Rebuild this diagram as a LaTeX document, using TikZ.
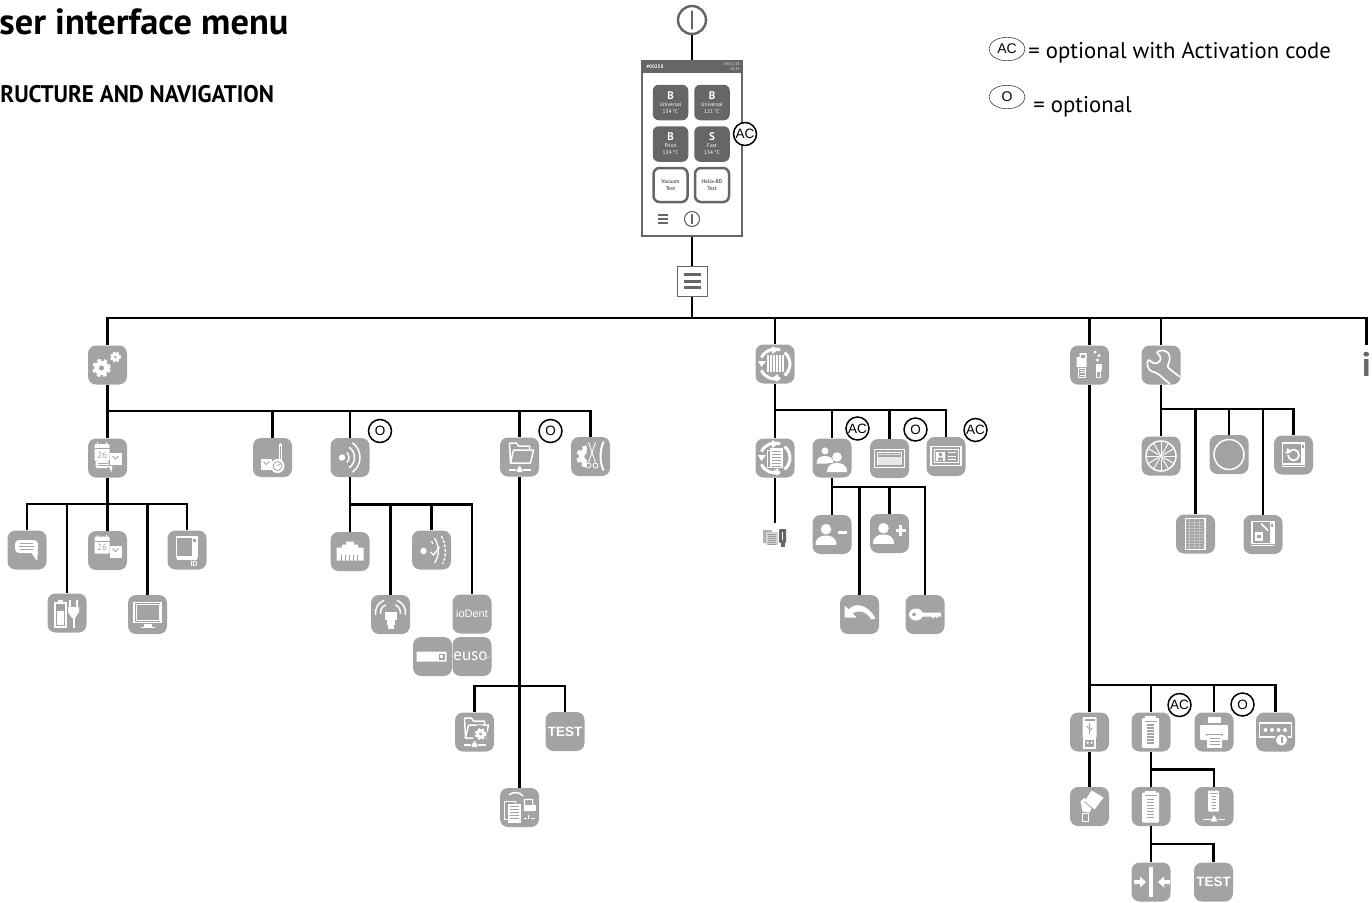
\documentclass[tikz,border=0pt]{standalone}
\usepackage{fontspec}
\setmainfont{PT Sans}
\newfontfamily\headfont[FakeStretch=0.96]{PT Sans}
\newfontfamily\flagfont{Liberation Sans}
\newfontfamily\symbolfont{DejaVu Sans}
\usetikzlibrary{shapes.geometric}
\definecolor{iconGrey}{HTML}{A3A3A3}
\definecolor{darkGrey}{HTML}{666666}
\newcommand{\cogwheel}[3]{
    \draw[white,line width=#3*0.4pt,dash pattern=on #3*0.37pt off #3*0.3pt] (#1,#2) circle[radius=#3*0.82pt];
    \fill[white,even odd rule] (#1,#2) circle[radius=#3*0.8pt] (#1,#2) circle[radius=#3*0.3pt];
}
\newcommand{\wavearc}[5]{\draw[glyph,shift={(#1,#2)}] (#3:#5pt) arc[start angle=#3,end angle=#4,radius=#5pt];}
\newcommand{\personglyph}[3]{
    \begin{scope}[shift={(#1,#2)},scale=#3]
        \fill[white] (0,-6) circle[radius=#3*4.8pt];
        \fill[white] (-10,9) .. controls (-10,2) and (-5,0) .. (0,0) .. controls (5,0) and (10,2) .. (10,9) -- cycle;
    \end{scope}
}
\newcommand{\folderglyph}{
    \draw[glyph,line join=round] (-9,6) -- (-10,-14) -- (-3,-14) -- (-1,-11) -- (10,-11) -- (10,-7);
    \draw[glyph,line join=round] (-9,6) -- (-6,-7) -- (14,-7) -- (11,6) -- cycle;
}
\newcommand{\cabinetglyph}{
    \draw[glyph] (-10.5,-13) rectangle (10,7);
    \fill[white] (5,-13) rectangle (10,7);
    \draw[glyph] (-10.5,9) -- (10,9);
    \fill[iconGrey] (6.2,-11) rectangle (8.8,-8);
}
\newcommand{\bottleglyph}{
    \fill[white,rounded corners=1pt] (-9,-14) rectangle (8,16);
    \fill[white] (-6,-16) rectangle (5,-14);
    \fill[iconGrey] (-6.5,-11.5) rectangle (5.5,-10.5);
    \foreach \h in {-7,-4,...,11} \draw[iconGrey,line width=1.2pt] (-4,\h) -- (3,\h);
}
\tikzset{
    glyph/.style={draw=white,line width=1.5pt,fill=none},
    pics/netbar/.style={code={
        \draw[glyph] (-11,13) -- (-3.5,13) (3.5,13) -- (11,13);
        \fill[white] (-3,15) -- (-2,11) -- (-1,11) -- (-1,9) -- (1,9) -- (1,11) -- (2,11) -- (3,15) -- cycle;
    }},
    pics/powerbar/.style={code={\draw[darkGrey,line cap=round] (0,-#1) -- (0,#1);}},
    pics/menubars/.style={code={
        \foreach \h in {-8.5,-1.5,4.5} \fill[darkGrey] (-8.5,\h) rectangle (8.5,\h+3.5);
    }},
    pics/gears/.style={code={\cogwheel{-6}{3}{9}\cogwheel{8}{-8}{5.5}}},
    pics/calendarglyph/.style={code={
        \fill[white,rounded corners=1pt] (-13,-14) rectangle (2,3);
        \draw[iconGrey,line width=.7pt] (-13,-9.5) -- (2,-9.5);
        \node[text=iconGrey,font=\fontsize{9}{9}\selectfont,inner sep=0] (day) at (-5.5,-3) {26};
        \draw[white,line width=1.4pt] (-10,-16) -- (-10,-13) (-1,-16) -- (-1,-13);
        \fill[white] (2,-5) rectangle (14,7);
        \draw[iconGrey,line width=.8pt] (5,-2) -- (8,1) -- (11,-2);
    }},
    pics/datetime/.style={code={
        \pic {calendarglyph};
        \fill[white,rounded corners=1.5pt] (-12,3) rectangle (1,10);
        \fill[white] (1,8) -- (5,8) -- (4,14) -- cycle;
        \draw[iconGrey,line width=.6pt] (-10,5) -- (0,5) (-10,7.5) -- (0,7.5);
    }},
    pics/thermoclock/.style={code={
        \fill[white] (-12,1) rectangle (-1,12);
        \draw[iconGrey,line width=.8pt] (-9,4) -- (-6.5,7) -- (-3,4);
        \draw[white,line width=3pt,line cap=round] (7.5,-13) -- (7.5,3);
        \draw[iconGrey,line width=.8pt] (7.5,-12) -- (7.5,1);
        \fill[white] (5,8.5) circle[radius=7pt];
        \draw[iconGrey,line width=.8pt] (5,8.5) circle[radius=4.5pt] (5,8.5) -- (8,6);
    }},
    pics/wifi/.style={code={
        \fill[white] (-8,0) circle[radius=3.2pt];
        \wavearc{-8}{0}{-45}{45}{7}
        \wavearc{-8}{0}{-55}{55}{12.5}
        \wavearc{-8}{0}{-55}{55}{18}
    }},
    pics/netfolder/.style={code={\folderglyph\pic {netbar};}},
    pics/gearfolder/.style={code={\folderglyph\pic {netbar};\fill[iconGrey] (5,1) circle[radius=8pt];\cogwheel{6}{2}{6}}},
    pics/tools/.style={code={
        \begin{scope}
            \clip (-16,-16) rectangle (-4,16);
            \cogwheel{-3}{0}{11}
        \end{scope}
        \draw[white,line width=.9pt] (-2,-14) -- (5,6) (5,-14) -- (-2,6);
        \draw[white,line width=.8pt] (-2,9) circle[radius=2.5pt] (5,9) circle[radius=2.5pt];
        \draw[glyph,line width=2pt] (13,-15) .. controls (9,-5) and (9,5) .. (13,14);
    }},
    pics/speech/.style={code={
        \fill[white,rounded corners=4pt] (-12,-10) rectangle (11,3);
        \fill[white] (4,2) -- (11,1) -- (10,11) -- cycle;
        \draw[iconGrey,line width=.6pt] (-7,-6.5) -- (6,-6.5) (-8,-3.5) -- (7,-3.5) (-7,-.5) -- (6,-.5);
    }},
    pics/battery/.style={code={
        \draw[glyph] (-12,-10) rectangle (-1,14);
        \fill[white] (-9,-13) rectangle (-4,-10);
        \fill[white] (-10,-2) rectangle (-3,12);
        \draw[glyph,line width=2pt] (3,-13) -- (3,-6) (10,-13) -- (10,-6);
        \fill[white] (1,-6) -- (12,-6) -- (12,-1) -- (8,5) -- (5,5) -- (1,-1) -- cycle;
        \draw[glyph,line width=2pt] (6.5,5) -- (6.5,15);
    }},
    pics/monitor/.style={code={
        \draw[glyph] (-13.5,-12) rectangle (13.5,8);
        \draw[white,line width=.7pt] (-11.5,-10) rectangle (11.5,6);
        \fill[white] (-4,9) rectangle (4,12);
        \fill[white] (-7,12) rectangle (7,13.5);
    }},
    pics/cabinetid/.style={code={
        \cabinetglyph
        \node[text=white,font=\bfseries\fontsize{7.5}{7.5}\selectfont,inner sep=0] (idtag) at (7,13.5) {ID};
    }},
    pics/lanport/.style={code={
        \fill[white] (-13.5,9) -- (-13.5,-4) -- (-8,-4) -- (-8,-7) -- (-4,-7) -- (-4,-10) -- (4,-10) -- (4,-7) -- (8,-7) -- (8,-4) -- (13.5,-4) -- (13.5,9) -- cycle;
        \foreach \h in {-9,-5,...,9} \draw[iconGrey,line width=.8pt] (\h,3) -- (\h,9);
    }},
    pics/sonic/.style={code={
        \fill[white] (-8,1) circle[radius=3.2pt];
        \draw[white,line width=1.3pt,dash pattern=on 3pt off 1.5pt] (0,-9) -- (2,-5);
        \draw[white,line width=1.3pt,dash pattern=on 3pt off 1.5pt] (10,-14) .. controls (15,-4) and (15,6) .. (11,14);
        \draw[white,line width=1.3pt] (3,-12) .. controls (8,-4) and (8,6) .. (3,13);
        \draw[white,line width=1.4pt] (-1,2) -- (2,5) -- (8,-3);
    }},
    pics/signal/.style={code={
        \fill[white] (-6,-3) rectangle (6,5);
        \fill[white] (-4,5) rectangle (4,10);
        \fill[white] (-3,10) rectangle (3,14);
        \wavearc{-2}{-2}{110}{190}{8}
        \wavearc{-2}{-2}{110}{190}{13}
        \wavearc{2}{-2}{-10}{70}{8}
        \wavearc{2}{-2}{-10}{70}{13}
    }},
    pics/slot/.style={code={
        \fill[white,rounded corners=.5pt] (-16,-5) rectangle (14,5);
        \fill[iconGrey] (6,-3) rectangle (12,3);
        \fill[white] (7.5,-1.5) rectangle (10.5,1.5);
    }},
    pics/restorefolder/.style={code={
        \wavearc{-4}{-5}{130}{40}{10}
        \draw[glyph,line width=.8pt] (-15,-6) rectangle (-4,12);
        \fill[white] (-12,-4) rectangle (1,15);
        \foreach \h in {-1,2,...,13} \draw[iconGrey,line width=.7pt] (-10,\h) -- (-1,\h);
        \draw[glyph,line width=1.1pt] (5,-8) -- (13,-8) -- (14,3) -- (5,3) -- cycle;
        \fill[white] (4,-3) rectangle (16,3);
        \draw[white,line width=1pt] (4,11) -- (7.5,11) (11,11) -- (15,11) (9,7) -- (9,11);
    }},
    pics/cyclearcs/.style={code={
        \draw[white,line width=3pt] (155:15pt) arc[start angle=155,end angle=70,radius=15pt];
        \draw[white,line width=3pt] (50:15pt) arc[start angle=50,end angle=-50,radius=15pt];
        \draw[white,line width=3pt] (-70:15pt) arc[start angle=-70,end angle=-155,radius=15pt];
        \fill[white] (-17,-3) -- (-9,-3) -- (-13.5,3) -- cycle;
        \fill[white] (-3,-18) -- (3,-14) -- (-3,-10) -- cycle;
        \fill[white] (3,18) -- (-3,14) -- (3,10) -- cycle;
    }},
    pics/cyclestack/.style={code={
        \pic {cyclearcs};
        \fill[white] (-8,-9) rectangle (9,8);
        \foreach \h in {-6,-3,...,6} \draw[iconGrey,line width=.8pt] (\h,-9) -- (\h,8);
    }},
    pics/cycledoc/.style={code={
        \pic {cyclearcs};
        \draw[glyph,line width=.8pt] (-8,-8) rectangle (5,9);
        \fill[white] (-5,-10) rectangle (8,10);
        \foreach \h in {-7,-4,...,8} \draw[iconGrey,line width=.7pt] (-3,\h) -- (6,\h);
    }},
    pics/usbcopy/.style={code={
        \wavearc{-2}{-1}{140}{40}{8}
        \fill[gray!60,rounded corners=.5pt] (-12,-5) rectangle (-3,8);
        \fill[gray!35] (-9,-3) rectangle (3,10);
        \foreach \h in {-1,1,...,9} \draw[gray!80,line width=.4pt] (-7,\h) -- (1,\h);
        \fill[darkGrey,rounded corners=1pt] (4,-6) rectangle (11,8);
        \fill[darkGrey] (5.5,8) rectangle (9.5,12);
        \draw[white,line width=.5pt] (7.5,-3) -- (7.5,5);
    }},
    pics/users/.style={code={
        \personglyph{-7}{-2}{.85}
        \fill[iconGrey] (5,-6) circle[radius=7pt];
        \fill[iconGrey] (-5,15) -- (-4,5) -- (14,5) -- (18,15) -- cycle;
        \personglyph{5}{5}{1}
    }},
    pics/cardglyph/.style={code={
        \draw[glyph] (-15,-9) rectangle (15,9);
        \draw[white,line width=.7pt] (-12,-6) rectangle (12,6);
        \fill[white!75!iconGrey] (-12,-2) rectangle (12,6);
        \draw[white,line width=1pt,dash pattern=on 1pt off .6pt] (-11,-4) -- (11,-4);
    }},
    pics/idcard/.style={code={
        \draw[glyph] (-15,-10) rectangle (15,9);
        \draw[white,line width=.6pt] (-12,-7) rectangle (12,6);
        \fill[white] (-10,-5) rectangle (-1,4);
        \fill[iconGrey] (-5.5,-2) circle[radius=2pt] (-8,4) rectangle (-3,1);
        \draw[white,line width=.9pt] (2,-4) -- (10,-4) (2,-.5) -- (10,-.5) (2,3) -- (10,3);
    }},
    pics/userminus/.style={code={\personglyph{-6}{1}{1.05}\fill[white] (6,-4) rectangle (15,-1);}},
    pics/userplus/.style={code={\personglyph{-6}{1}{1.05}\fill[white] (6,-5) rectangle (16,-2);\fill[white] (9.5,-9) rectangle (12.5,2);}},
    pics/backarrow/.style={code={
        \fill[white] (-15,3) -- (-3,3) -- (-7,-1) .. controls (-2,-5) and (6,-4) .. (12,5) -- (16,4) .. controls (10,-8) and (-3,-14) .. (-11,-5) -- (-15,-9) -- cycle;
    }},
    pics/keyglyph/.style={code={
        \fill[white,even odd rule] (-9,0) ellipse[x radius=7pt,y radius=6pt] (-11,0) circle[radius=2pt];
        \fill[white] (-3,-2) -- (16,-2) -- (16,2) -- (13,2) -- (12,4) -- (10,2) -- (8,4) -- (6,2) -- (-3,2) -- cycle;
    }},
    pics/filetransfer/.style={code={
        \fill[white] (-13,-8) -- (-10,-8) -- (-10,-12) -- (-3,-12) -- (-3,2) -- (-13,2) -- cycle;
        \fill[iconGrey] (-9,-10) rectangle (-5,-7);
        \draw[white,line width=.9pt] (-11,3) rectangle (-4,12);
        \foreach \h in {5,7.5,10} \draw[white,line width=.6pt] (-10,\h) -- (-5,\h);
        \fill[white] (5.5,-13) circle[radius=1.6pt] (9.5,-9.5) circle[radius=1.6pt] (8,-5) circle[radius=1.6pt];
        \fill[white] (6,-1) -- (12,-1) -- (12,6) -- (6,6) -- cycle;
        \draw[white,line width=.9pt] (7,6) rectangle (11,12);
    }},
    pics/wrenchglyph/.style={code={
        \draw[glyph,line width=1.7pt,rounded corners=2.5pt] (9,19) -- (-4,8) -- (-11,6) -- (-14,0) -- (-13,-6) -- (-7,-1) -- (-1,-3) -- (0,-8) -- (-5,-13) -- (2,-15) -- (8,-12) -- (9,-5) -- (6,2) -- (19,12);
    }},
    pics/wheel/.style={code={
        \draw[glyph] (0,0) circle[radius=15pt];
        \foreach \a in {0,30,...,330} \draw[white,line width=1pt] (\a:2.5pt) -- (\a:14pt);
        \fill[white] (0,0) circle[radius=2pt];
    }},
    pics/ring/.style={code={\draw[glyph] (0,0) circle[radius=15pt];}},
    pics/doorcycle/.style={code={
        \draw[glyph] (-11,-12) rectangle (11,9);
        \draw[white,line width=.9pt] (-12,11) -- (11,11);
        \fill[white] (7,-12) rectangle (11,9);
        \fill[iconGrey] (8,-10) rectangle (10,-7);
        \draw[white,line width=1.7pt] (130:5.5pt) arc[start angle=130,end angle=-180,radius=5.5pt];
        \fill[white] (-8,-1) -- (-6,-7) -- (-2,-3) -- cycle;
    }},
    pics/gridpanel/.style={code={
        \draw[glyph] (-10,-15.5) rectangle (9.5,15.5);
        \foreach \h in {-12,-9,...,12} \draw[white!35!iconGrey,line width=.6pt] (-10,\h) -- (9.5,\h);
        \foreach \h in {-6,-1,4} \draw[white!35!iconGrey,line width=.6pt] (\h,-15) -- (\h,15);
    }},
    pics/cabinetwrench/.style={code={
        \draw[glyph] (-11,-13) rectangle (11,9);
        \draw[white,line width=.9pt] (-12,11) -- (11,11);
        \fill[white] (7,-13) rectangle (11,9);
        \fill[iconGrey] (8,-11) rectangle (10,-8);
        \fill[white] (-8,-3) rectangle (0,6);
        \draw[white,line width=1.6pt] (-2,-11) -- (5,-4);
        \fill[iconGrey] (-6,0) rectangle (-2,3);
    }},
    pics/usbstick/.style={code={
        \fill[white,rounded corners=1pt] (-7,-15) rectangle (7,6);
        \fill[iconGrey] (-5,-13) rectangle (5,-11);
        \draw[iconGrey,line width=.8pt] (0,-9) -- (0,2) (0,-3) -- (-3,-6) (0,-1) -- (3,-4);
        \draw[glyph,line width=1.1pt] (-5.5,7) rectangle (5.5,16);
        \fill[white] (-3,9.5) rectangle (-1,11.5) (1,9.5) rectangle (3,11.5);
    }},
    pics/bottle/.style={code={\bottleglyph}},
    pics/netbottle/.style={code={
        \fill[white,rounded corners=1pt] (-6,-16) rectangle (5,5);
        \fill[iconGrey] (-4.5,-13.5) rectangle (3.5,-12.5);
        \foreach \h in {-10,-7,...,3} \draw[iconGrey,line width=1pt] (-2.5,\h) -- (2,\h);
        \pic {netbar};
    }},
    pics/printer/.style={code={
        \fill[white] (-6,-15) rectangle (6.5,-9);
        \fill[white,rounded corners=1pt] (-14,-7) rectangle (14,8);
        \fill[iconGrey] (-8,2) rectangle (9,4);
        \fill[white] (-7,3) rectangle (8,16);
        \foreach \h in {6,9,12} \draw[iconGrey,line width=.7pt] (-4,\h) -- (6,\h);
    }},
    pics/pinpad/.style={code={
        \draw[glyph] (-16,-9) rectangle (16,5);
        \foreach \h in {-10,-3.5,3,9.5} \fill[white] (\h,-2) circle[radius=2pt];
        \fill[iconGrey] (6,8) circle[radius=7pt];
        \fill[white] (6,8) circle[radius=5.5pt];
        \fill[iconGrey] (5,5) rectangle (7,11);
    }},
    pics/usbhand/.style={code={
        \fill[white] (2,-16) -- (14,-9) -- (5,3) -- (-5,-5) -- cycle;
        \fill[white] (-9,-5) -- (-5,-9) -- (2,2) -- (0,6) -- (-7,5) -- cycle;
        \draw[iconGrey,line width=.8pt] (-5,-5) -- (4,3);
        \draw[glyph,line width=1pt] (-7,7) rectangle (-1,15);
    }},
    pics/squeeze/.style={code={
        \fill[white] (-1.7,-15) rectangle (1.7,15);
        \fill[white] (-17,-2) -- (-11,-2) -- (-11,-5.5) -- (-5,0) -- (-11,5.5) -- (-11,2) -- (-17,2) -- cycle;
        \fill[white] (19,-2) -- (13,-2) -- (13,-5.5) -- (7,0) -- (13,5.5) -- (13,2) -- (19,2) -- cycle;
    }}
}
\begin{document}
\begin{tikzpicture}[x=1pt,y=-1pt,thick,icon node/.style={rectangle,rounded corners=8pt,fill=iconGrey,minimum size=39pt,inner sep=0pt,text=white},flag node/.style={circle,draw,line width=1.5pt,fill=white,minimum size=23pt,inner sep=0pt,font=\flagfont\fontsize{13.5}{13.5}\selectfont},tile node/.style={rectangle,rounded corners=6pt,fill=darkGrey,minimum size=35.5pt,inner sep=0pt,text=white,align=center,font=\fontsize{5.4}{7}\selectfont},test node/.style={tile node,fill=white,draw=darkGrey,line width=2.5pt,text=darkGrey,minimum size=34pt},branch/.style={to path={-| (\tikztotarget)}},wire/.style={line width=2.1pt,black},legend node/.style={ellipse,draw,thin,minimum width=36pt,minimum height=23.5pt,inner sep=0pt,font=\flagfont\fontsize{14}{14}\selectfont},test label/.style={font=\flagfont\bfseries\fontsize{13.5}{13.5}\selectfont}]
            \useasboundingbox (0,0) rectangle (1372,902);

            \node[inner sep=0pt,anchor=base west,font=\bfseries\fontsize{36.4}{36.4}\selectfont] (title) at (-1,34){ser interface menu};
            \node[inner sep=0pt,anchor=base west,font=\headfont\bfseries\fontsize{24}{24}\selectfont] (subtitle) at (0,102){RUCTURE AND NAVIGATION};

            \node[legend node] (legendac) at (1007,49){AC};
            \node[legend node] (legendo) at (1007,97){O};
            \node[inner sep=0pt,anchor=base west,font=\fontsize{22.7}{22.7}\selectfont] (legendactext) at (1028,58){= optional with Activation code};
            \node[inner sep=0pt,anchor=base west,font=\fontsize{22.7}{22.7}\selectfont] (legendotext) at (1033,112){= optional};

            \node[circle,draw=darkGrey,line width=2.5pt,fill=white,minimum size=28pt,inner sep=0pt] (power) at (692,20){};
            \pic[line width=2.6pt] at (power) {powerbar=8.5};

            \node[rectangle,draw=darkGrey,line width=1.2pt,fill=white,minimum width=100pt,minimum height=175pt,inner sep=0pt] (phone) at (692,148.5){};
            \node[rectangle,fill=darkGrey,minimum width=100pt,minimum height=12pt,inner sep=0pt] (header) at (692,67){};
            \node[text=white,inner sep=0pt,anchor=west,font=\bfseries\fontsize{5}{5}\selectfont] (serial) at (646,67){\#00258};
            \node[text=white!75!darkGrey,inner sep=0pt,anchor=east,align=right,font=\fontsize{4}{5}\selectfont] (clock) at (740,67){04/01/18\\16:24};
            \node[tile node] (tile1) at (670.5,102.5){{\bfseries\fontsize{11}{13}\selectfont B}\\Universal\\134 °C};
            \node[tile node] (tile2) at (712,102.5){{\bfseries\fontsize{11}{13}\selectfont B}\\Universal\\121 °C};
            \node[tile node] (tile3) at (670.5,144){{\bfseries\fontsize{11}{13}\selectfont B}\\Prion\\134 °C};
            \node[tile node] (tile4) at (712,144){{\bfseries\fontsize{11}{13}\selectfont S}\\Fast\\134 °C};
            \node[test node] (tile5) at (670.5,185){\bfseries Vacuum\\\bfseries Test};
            \node[test node] (tile6) at (712,185){\bfseries Helix-BD\\\bfseries Test};
            \node[circle,draw=darkGrey,line width=1.1pt,minimum size=15pt,inner sep=0pt] (phonepower) at (692,219){};
            \pic[line width=1.1pt] at (phonepower) {powerbar=4.5};
            \node[inner sep=0pt,minimum size=11pt] (phonemenu) at (663,219){};
            \pic[scale=.6] at (phonemenu) {menubars};

            \node[rectangle,draw=darkGrey,line width=1pt,minimum size=30pt,inner sep=0pt] (menu) at (692,281){};
            \pic at (menu) {menubars};

            \coordinate (topbus) at (692,318);

            \node[icon node] (settings) at (107.5,365){};
            \pic at (settings) {gears};
            \node[icon node] (cycles) at (775,364){};
            \pic at (cycles) {cyclestack};
            \node[icon node] (files) at (1089.5,365){};
            \pic at (files) {filetransfer};
            \node[icon node] (service) at (1161,365){};
            \pic at (service) {wrenchglyph};
            \node[inner sep=0pt,minimum height=39pt,minimum width=6pt,text=darkGrey,font=\bfseries\fontsize{34}{34}\selectfont] (info) at (1366.5,364.5){i};

            \coordinate (setbus) at (107.5,411);
            \node[icon node] (datetime) at (107.5,458){};
            \pic at (datetime) {datetime};
            \node[icon node] (thermo) at (272.5,457.5){};
            \pic at (thermo) {thermoclock};
            \node[icon node] (wifi) at (350,457.5){};
            \pic at (wifi) {wifi};
            \node[icon node] (folder) at (519.5,457){};
            \pic at (folder) {netfolder};
            \node[icon node] (tools) at (590.5,456.5){};
            \pic at (tools) {tools};

            \coordinate (datebus) at (107.5,504);
            \node[icon node] (speech) at (27,550){};
            \pic at (speech) {speech};
            \node[icon node] (battery) at (67,613){};
            \pic at (battery) {battery};
            \node[icon node] (calendar) at (107.5,550.5){};
            \pic at (calendar) {calendarglyph};
            \node[icon node] (monitor) at (147.5,614.5){};
            \pic at (monitor) {monitor};
            \node[icon node] (cabinetid) at (187,550){};
            \pic at (cabinetid) {cabinetid};

            \coordinate (wifibus) at (350,504.5);
            \node[icon node] (lan) at (350,551.5){};
            \pic at (lan) {lanport};
            \node[icon node] (signal) at (390.5,614.5){};
            \pic at (signal) {signal};
            \node[icon node] (sonic) at (431.5,550){};
            \pic at (sonic) {sonic};
            \node[icon node,font=\flagfont\fontsize{11}{11}\selectfont] (iodent) at (472,614){ioDent};
            \node[icon node,font=\fontsize{17}{17}\selectfont] (euso) at (472,656.5){euso\kern-1pt\raisebox{1pt}{\symbolfont\fontsize{5}{5}\selectfont ✓}};
            \node[icon node] (slot) at (432.5,656.5){};
            \pic at (slot) {slot};

            \coordinate (folderbus) at (519.5,686);
            \node[icon node] (gearfolder) at (474.5,732){};
            \pic at (gearfolder) {gearfolder};
            \node[icon node,test label] (foldertest) at (565,731.5){TEST};
            \node[icon node] (restore) at (519.5,807.5){};
            \pic at (restore) {restorefolder};

            \coordinate (cyclebus) at (775,410);
            \node[icon node] (cycledoc) at (775,458){};
            \pic at (cycledoc) {cycledoc};
            \node[icon node] (users) at (832,458){};
            \pic at (users) {users};
            \node[icon node] (card) at (889.5,458.5){};
            \pic at (card) {cardglyph};
            \node[icon node] (idcard) at (946,456.5){};
            \pic at (idcard) {idcard};
            \node[inner sep=0pt,minimum size=24pt] (cycleusb) at (775,535){};
            \pic at (cycleusb) {usbcopy};

            \coordinate (userbus) at (832,487);
            \node[icon node] (userminus) at (832,534.5){};
            \pic at (userminus) {userminus};
            \node[icon node] (userplus) at (889.5,533.5){};
            \pic at (userplus) {userplus};
            \node[icon node] (back) at (859.5,614.5){};
            \pic at (back) {backarrow};
            \node[icon node] (key) at (925,614.5){};
            \pic at (key) {keyglyph};

            \coordinate (servicebus) at (1161,409);
            \node[icon node] (wheel) at (1161,456){};
            \pic at (wheel) {wheel};
            \node[icon node] (ring) at (1229,454.5){};
            \pic at (ring) {ring};
            \node[icon node] (door) at (1293.5,455){};
            \pic at (door) {doorcycle};
            \node[icon node] (grid) at (1195.5,534){};
            \pic at (grid) {gridpanel};
            \node[icon node] (cabinet) at (1263,534.5){};
            \pic at (cabinet) {cabinetwrench};

            \coordinate (filebus) at (1089.5,685);
            \node[icon node] (usb) at (1089.5,732){};
            \pic at (usb) {usbstick};
            \node[icon node] (bottle) at (1151,732){};
            \pic at (bottle) {bottle};
            \node[icon node] (printer) at (1214,732){};
            \pic at (printer) {printer};
            \node[icon node] (pin) at (1275.5,732){};
            \pic at (pin) {pinpad};
            \node[icon node] (hand) at (1089.5,806.5){};
            \pic at (hand) {usbhand};

            \coordinate (bottlebus) at (1151,769.5);
            \node[icon node] (bottle2) at (1151,806.5){};
            \pic at (bottle2) {bottle};
            \node[icon node] (netbottle) at (1214,806.5){};
            \pic at (netbottle) {netbottle};

            \coordinate (bottle2bus) at (1151,844);
            \node[icon node] (squeeze) at (1151,882){};
            \pic at (squeeze) {squeeze};
            \node[icon node,test label] (bottletest) at (1213.5,882){TEST};

            \path[wire]
                (power) edge (phone)
                (phone) edge (menu)
                (menu) edge (topbus)

                (topbus) edge[branch] (settings)
                (topbus) edge[branch] (cycles)
                (topbus) edge[branch] (files)
                (topbus) edge[branch] (service)
                (topbus) edge[branch] (info)

                (settings) edge (datetime)
                (setbus) edge[branch] (thermo)
                (setbus) edge[branch] (wifi)
                (setbus) edge[branch] (folder)
                (setbus) edge[branch] (tools)

                (datetime) edge (calendar)
                (datebus) edge[branch] (speech)
                (datebus) edge[branch] (battery)
                (datebus) edge[branch] (monitor)
                (datebus) edge[branch] (cabinetid)

                (wifi) edge (lan)
                (wifibus) edge[branch] (signal)
                (wifibus) edge[branch] (sonic)
                (wifibus) edge[branch] (iodent)

                (folder) edge (restore)
                (folderbus) edge[branch] (gearfolder)
                (folderbus) edge[branch] (foldertest)

                (cycles) edge (cycledoc)
                (cyclebus) edge[branch] (users)
                (cyclebus) edge[branch] (card)
                (cyclebus) edge[branch] (idcard)
                (cycledoc) edge (cycleusb)

                (users) edge (userminus)
                (userbus) edge[branch] (userplus)
                (userbus) edge[branch] (back)
                (userbus) edge[branch] (key)

                (service) edge (wheel)
                (servicebus) edge[branch] (ring)
                (servicebus) edge[branch] (door)
                (servicebus) edge[branch] (grid)
                (servicebus) edge[branch] (cabinet)

                (files) edge (usb)
                (filebus) edge[branch] (bottle)
                (filebus) edge[branch] (printer)
                (filebus) edge[branch] (pin)
                (usb) edge (hand)

                (bottle) edge (bottle2)
                (bottlebus) edge[branch] (netbottle)
                (bottle2) edge (squeeze)
                (bottle2bus) edge[branch] (bottletest)
            ;

            \node[flag node] (flagphone) at (745,134){AC};
            \node[flag node] (flagwifi) at (380,431){O};
            \node[flag node] (flagfolder) at (550.5,431){O};
            \node[flag node] (flagusers) at (857.5,428.5){AC};
            \node[flag node] (flagcard) at (915.5,429.5){O};
            \node[flag node] (flagid) at (975.5,430){AC};
            \node[flag node] (flagbottle) at (1179.5,705){AC};
            \node[flag node] (flagprinter) at (1242.5,704.5){O};
\end{tikzpicture}
\end{document}
